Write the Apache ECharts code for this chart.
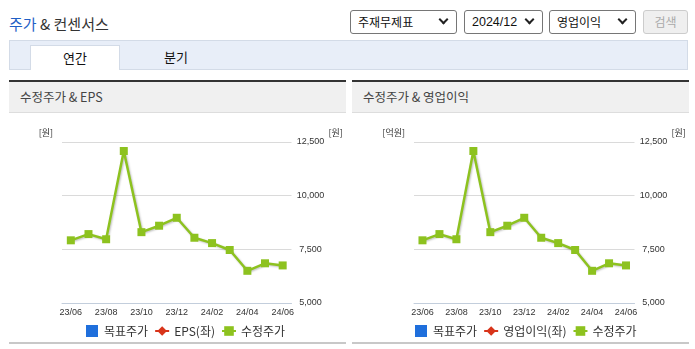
<!DOCTYPE html>
<html>
<head>
<meta charset="utf-8">
<script src="https://cdn.jsdelivr.net/npm/echarts@6/dist/echarts.min.js"></script>
<style>
    body { margin: 0; background: #fff; font-family: "Noto Sans CJK KR", sans-serif; }
    .page { position: relative; width: 695px; height: 349px; overflow: hidden; }
    .title { position: absolute; left: 9px; top: 13px; font-size: 15px; color: #333; }
    .title .blue { color: #1f5fc6; }
    .sel { position: absolute; top: 10px; height: 24px; box-sizing: border-box; border: 1px solid #767676;
        border-radius: 3px; background: #fff; font-size: 12px; color: #111; line-height: 22px; padding-left: 7px; }
    .sel.num { font-family: "Liberation Sans", sans-serif; font-size: 12.5px; }
    .sel .arr { position: absolute; right: 9px; top: 5px; width: 5px; height: 5px;
        border-right: 2px solid #222; border-bottom: 2px solid #222; transform: rotate(45deg); }
    .btn { position: absolute; left: 643px; top: 10px; width: 45px; height: 24px; box-sizing: border-box;
        border: 1px solid #ccc; border-radius: 3px; background: #efefef; color: #aaa; font-size: 12px;
        text-align: center; line-height: 22px; }
    .tabs { position: absolute; left: 9px; top: 40px; width: 679px; height: 30px; box-sizing: border-box;
        background: #e8eef8; border: 1px solid #d3dbe7; }
    .tab { position: absolute; top: 4px; height: 25px; width: 90px; text-align: center; font-size: 13px;
        line-height: 24px; color: #111; }
    .tab.on { left: 20px; background: #fff; border: 1px solid #d3dbe7; border-bottom: none; box-sizing: border-box; }
    .panel { position: absolute; top: 80px; width: 337px; height: 264px; }
    .panel .head { height: 30px; border-top: 2px solid #333; border-bottom: 1px solid #ddd; background: #f0f0f0;
        font-size: 12.5px; color: #444; line-height: 29px; padding-left: 11px; box-sizing: content-box; }
    .panel .chart { position: absolute; left: 0; top: 32px; width: 337px; height: 229px; }
    .panel .foot { position: absolute; left: 0; top: 262px; width: 100%; height: 2px; background: #c8c8c8; }
</style>
</head>
<body>
<div class="page">
    <div class="title"><span class="blue">주가</span> &amp; 컨센서스</div>
    <div class="sel" style="left:350px;width:107px">주재무제표<span class="arr"></span></div>
    <div class="sel num" style="left:464px;width:79px">2024/12<span class="arr"></span></div>
    <div class="sel" style="left:549px;width:87px">영업이익<span class="arr"></span></div>
    <div class="btn">검색</div>
    <div class="tabs">
        <div class="tab on">연간</div>
        <div class="tab" style="left:121px">분기</div>
    </div>
    <div class="panel" style="left:9px">
        <div class="head">수정주가 &amp; EPS</div>
        <div id="chart-eps" class="chart"></div>
        <div class="foot"></div>
    </div>
    <div class="panel" style="left:352px">
        <div class="head">수정주가 &amp; 영업이익</div>
        <div id="chart-op" class="chart"></div>
        <div class="foot"></div>
    </div>
</div>
<script>
    // 월별 카테고리
    var months = ['23/06', '23/07', '23/08', '23/09', '23/10', '23/11', '23/12',
                  '24/01', '24/02', '24/03', '24/04', '24/05', '24/06'];
    // 수정주가 (원)
    var adjPrice = [7920, 8210, 7970, 12080, 8300, 8600, 8970, 8040, 7790, 7470, 6500, 6850, 6750];
    // 목표주가 / EPS / 영업이익 - 값 없음
    var targetPrice = [];
    var epsValues = [];
    var opProfit = [];
    // 오른쪽 축 눈금
    var priceMin = 5000, priceMax = 12500, priceStep = 2500;

    var GREEN = '#8dc21f';
    var NUM_FONT = '"Liberation Sans", "Noto Sans CJK KR", sans-serif';
    var KR_FONT = '"Noto Sans CJK KR", sans-serif';

    function makeOption(leftName, leftUnit, leftData, gridLeft, legendLeft) {
        return {
            animation: false,
            grid: { left: gridLeft, right: 54.5, top: 30, bottom: 38 },
            legend: {
                left: legendLeft,
                top: 208,
                itemWidth: 14,
                itemHeight: 12,
                itemGap: 6,
                symbolKeepAspect: true,
                textStyle: { fontSize: 12, color: '#333', fontFamily: KR_FONT },
                data: [
                    { name: '목표주가', icon: 'path://M0,0H12V12H0Z' },
                    { name: leftName },
                    { name: '수정주가' }
                ]
            },
            xAxis: {
                type: 'category',
                data: months,
                axisLine: { lineStyle: { color: '#c3cedc' } },
                axisTick: {
                    length: 5,
                    lineStyle: { color: '#c3cedc' },
                    interval: function (i) { return i === 0 || i % 2 === 1; }
                },
                axisLabel: { interval: 1, margin: 5, fontSize: 9, color: '#333', fontFamily: NUM_FONT }
            },
            yAxis: [
                {
                    type: 'value',
                    position: 'left',
                    name: leftUnit,
                    nameGap: 9,
                    nameTextStyle: { align: 'right', verticalAlign: 'middle', padding: [0, 9, 0, 0],
                        fontSize: 9, color: '#333', fontFamily: KR_FONT },
                    axisLine: { show: false },
                    axisTick: { show: false },
                    axisLabel: { show: false },
                    splitLine: { show: false }
                },
                {
                    type: 'value',
                    position: 'right',
                    min: priceMin,
                    max: priceMax,
                    interval: priceStep,
                    name: '[원]',
                    nameGap: 9,
                    nameTextStyle: { align: 'left', verticalAlign: 'middle', padding: [0, 0, 0, 37],
                        fontSize: 9, color: '#333', fontFamily: KR_FONT },
                    axisLine: { show: false },
                    axisTick: { show: false },
                    axisLabel: {
                        align: 'center', margin: 19, fontSize: 9, color: '#333', fontFamily: NUM_FONT,
                        formatter: function (v) { return v.toLocaleString('en-US'); }
                    },
                    splitLine: { lineStyle: { color: '#dadada' } }
                }
            ],
            series: [
                {
                    name: '목표주가',
                    type: 'line',
                    yAxisIndex: 1,
                    data: targetPrice,
                    itemStyle: { color: '#1f6fdc' }
                },
                {
                    name: leftName,
                    type: 'line',
                    yAxisIndex: 0,
                    data: leftData,
                    symbol: 'diamond',
                    symbolSize: 8,
                    itemStyle: { color: '#d8341a' },
                    lineStyle: { color: '#d8341a', width: 2 }
                },
                {
                    name: '수정주가',
                    type: 'line',
                    yAxisIndex: 1,
                    data: adjPrice,
                    symbol: 'rect',
                    symbolSize: 8,
                    showAllSymbol: true,
                    itemStyle: { color: GREEN },
                    lineStyle: {
                        color: GREEN, width: 2.5,
                        shadowColor: 'rgba(0,0,0,0.25)', shadowBlur: 2, shadowOffsetX: 1, shadowOffsetY: 1
                    }
                }
            ]
        };
    }

    var chartEps = echarts.init(document.getElementById('chart-eps'));
    var chartOp = echarts.init(document.getElementById('chart-op'));
    chartEps.setOption(makeOption('EPS(좌)', '[원]', epsValues, 53, 72));
    chartOp.setOption(makeOption('영업이익(좌)', '[억원]', opProfit, 62, 58));

    window.addEventListener('resize', function () {
        chartEps.resize();
        chartOp.resize();
    });
</script>
</body>
</html>
